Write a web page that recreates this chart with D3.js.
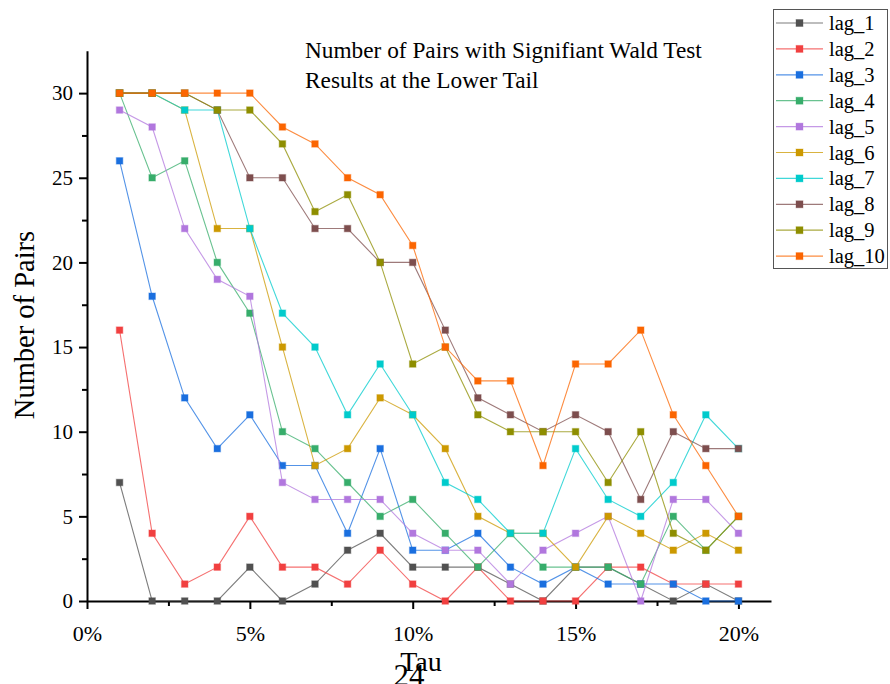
<!DOCTYPE html>
<html><head><meta charset="utf-8">
<script src="https://cdn.jsdelivr.net/npm/d3@7"></script>
<style>
body{margin:0;background:#fff;}
text{font-family:"Liberation Serif","Times New Roman",Times,Tinos,"DejaVu Serif",serif;fill:#000;}
</style>
</head><body>
<svg id="chart" width="890" height="684"></svg>
<script>
// ---- data ----
const tau = [1,2,3,4,5,6,7,8,9,10,11,12,13,14,15,16,17,18,19,20];
const lag_1  = [7,0,0,0,2,0,1,3,4,2,2,2,1,0,2,2,1,0,1,0];
const lag_2  = [16,4,1,2,5,2,2,1,3,1,0,2,0,0,0,2,2,1,1,1];
const lag_3  = [26,18,12,9,11,8,8,4,9,3,3,4,2,1,2,1,1,1,0,0];
const lag_4  = [30,25,26,20,17,10,9,7,5,6,4,2,4,2,2,2,1,5,3,5];
const lag_5  = [29,28,22,19,18,7,6,6,6,4,3,3,1,3,4,5,0,6,6,4];
const lag_6  = [30,30,29,22,22,15,8,9,12,11,9,5,4,4,2,5,4,3,4,3];
const lag_7  = [30,30,29,29,22,17,15,11,14,11,7,6,4,4,9,6,5,7,11,9];
const lag_8  = [30,30,30,29,25,25,22,22,20,20,16,12,11,10,11,10,6,10,9,9];
const lag_9  = [30,30,30,29,29,27,23,24,20,14,15,11,10,10,10,7,10,4,3,5];
const lag_10 = [30,30,30,30,30,28,27,25,24,21,15,13,13,8,14,14,16,11,8,5];
const seriesNames = ["lag_1","lag_2","lag_3","lag_4","lag_5","lag_6","lag_7","lag_8","lag_9","lag_10"];
const seriesValues = [lag_1,lag_2,lag_3,lag_4,lag_5,lag_6,lag_7,lag_8,lag_9,lag_10];
const seriesColors = ["#515151","#F14040","#1A6FDF","#37AD6B","#B177DE","#CC9900","#00CBCC","#7D4E4E","#8E8E00","#FB6501"];
const xTickValues = [0,5,10,15,20];
const xTickLabels = ["0%","5%","10%","15%","20%"];
const xMinorTicks = [2.5,7.5,12.5,17.5];
const yTickValues = [0,5,10,15,20,25,30];
const yMinorTicks = [2.5,7.5,12.5,17.5,22.5,27.5];
const titleLines = ["Number of Pairs with Signifiant Wald Test","Results at the Lower Tail"];

// ---- chart ----
const FONT = '"Liberation Serif","Times New Roman",Times,Tinos,"DejaVu Serif",serif';
const svg = d3.select("#chart");
const x = d3.scaleLinear().domain([0,21]).range([87,771]);
const y = d3.scaleLinear().domain([0,32.5]).range([601,50.8]);

// minor ticks
svg.append("g").attr("transform",`translate(0,${y(0)})`)
  .call(d3.axisBottom(x).tickValues(xMinorTicks).tickSize(5).tickFormat(""))
  .call(g=>g.select(".domain").remove())
  .call(g=>g.selectAll("line").attr("stroke","#000").attr("stroke-width",2));
svg.append("g").attr("transform",`translate(${x(0)},0)`)
  .call(d3.axisLeft(y).tickValues(yMinorTicks).tickSize(5).tickFormat(""))
  .call(g=>g.select(".domain").remove())
  .call(g=>g.selectAll("line").attr("stroke","#000").attr("stroke-width",2));

// major axes
const xAxis = svg.append("g").attr("transform",`translate(0,${y(0)})`)
  .call(d3.axisBottom(x).tickValues(xTickValues).tickSize(8).tickSizeOuter(0).tickPadding(16)
    .tickFormat((d,i)=>xTickLabels[i]));
xAxis.select(".domain").attr("stroke","#000").attr("stroke-width",2);
xAxis.selectAll("line").attr("stroke","#000").attr("stroke-width",2);
xAxis.selectAll("text").attr("font-size",22).style("font-family",FONT).attr("fill","#000");

const yAxis = svg.append("g").attr("transform",`translate(${x(0)},0)`)
  .call(d3.axisLeft(y).tickValues(yTickValues).tickSize(8).tickSizeOuter(0).tickPadding(6));
yAxis.select(".domain").attr("stroke","#000").attr("stroke-width",2);
yAxis.selectAll("line").attr("stroke","#000").attr("stroke-width",2);
yAxis.selectAll("text").attr("font-size",21).style("font-family",FONT).attr("fill","#000");

// series
const line = d3.line().x((d,i)=>x(tau[i])).y(d=>y(d));
const ms = 6.5;
seriesValues.forEach((vals,k)=>{
  const g = svg.append("g");
  g.append("path").datum(vals).attr("d",line).attr("fill","none")
    .attr("stroke",seriesColors[k]).attr("stroke-width",1.1).attr("stroke-opacity",0.75);
  g.selectAll("rect").data(vals).enter().append("rect")
    .attr("x",(d,i)=>x(tau[i])-ms/2).attr("y",d=>y(d)-ms/2)
    .attr("width",ms).attr("height",ms)
    .attr("fill",seriesColors[k]).attr("stroke",seriesColors[k]).attr("stroke-opacity",0.35).attr("stroke-width",1.2);
});

// axis titles
svg.append("text").attr("transform","translate(34,325) rotate(-90)")
  .attr("text-anchor","middle").attr("font-size",28.5).style("font-family",FONT).text("Number of Pairs");
svg.append("text").attr("x",421).attr("y",671).attr("text-anchor","middle")
  .attr("font-size",28).style("font-family",FONT).text("Tau");
svg.append("text").attr("x",409).attr("y",686).attr("text-anchor","middle")
  .attr("font-size",31).style("font-family",FONT).text("24");

// title
titleLines.forEach((t,i)=>{
  svg.append("text").attr("x",305).attr("y",58+i*30).attr("font-size",23.3).style("font-family",FONT).text(t);
});

// legend
const lg = svg.append("g");
lg.append("rect").attr("x",773.5).attr("y",9.5).attr("width",114).attr("height",259)
  .attr("fill","#fff").attr("stroke","#555").attr("stroke-width",1);
seriesNames.forEach((n,k)=>{
  const yy = 23 + k*25.9;
  lg.append("line").attr("x1",776).attr("x2",823).attr("y1",yy).attr("y2",yy)
    .attr("stroke",seriesColors[k]).attr("stroke-width",1.2).attr("stroke-opacity",0.75);
  lg.append("rect").attr("x",799.5-3.5).attr("y",yy-3.5).attr("width",7).attr("height",7)
    .attr("fill",seriesColors[k]).attr("stroke",seriesColors[k]).attr("stroke-opacity",0.35);
  lg.append("text").attr("x",829).attr("y",yy+7).attr("font-size",20.5).style("font-family",FONT).text(n);
});
</script>
</body></html>
